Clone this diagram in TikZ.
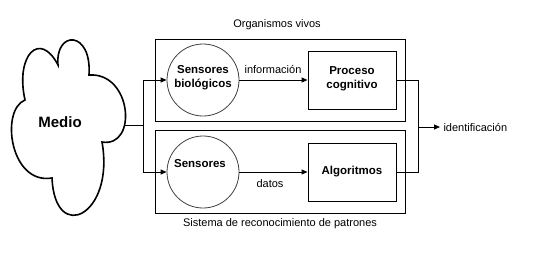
\documentclass[tikz,border=0pt]{standalone}
\usepackage{fontspec}
\setmainfont{Liberation Sans}
\usetikzlibrary{arrows.meta}
\begin{document}
\begin{tikzpicture}[x=1pt,y=-1pt,
  lbl/.style={font=\fontsize{11}{13}\selectfont},
  blbl/.style={font=\fontsize{11.5}{14}\selectfont\bfseries, align=center},
  frame/.style={draw, line width=1pt},
  sensor/.style={draw=black!75, line width=0.8pt, circle, minimum size=72pt, inner sep=0pt},
  proc/.style={draw, line width=1pt, minimum width=88pt, minimum height=58pt, inner sep=0pt},
  conn/.style={line width=1pt},
  arr/.style={line width=1pt, -{Triangle[length=6pt,width=5pt]}}]
\useasboundingbox (0,0) rectangle (536,258);
% outer frames
\draw[frame] (155,39) rectangle (405,121);
\draw[frame] (155,130) rectangle (405,213);
\node[lbl] (tOrg) at (277,25) {Organismos vivos};
\node[lbl] (tSis) at (280,224) {Sistema de reconocimiento de patrones};
% cloud
\draw[line width=1.6pt] (25,100) .. controls (15,55) and (40,30) .. (58,65)
  .. controls (55,30) and (92,30) .. (89,75)
  .. controls (132,72) and (138,148) .. (102,142)
  .. controls (115,215) and (55,245) .. (52,178)
  .. controls (10,185) and (0,110) .. cycle;
\node[font=\fontsize{15}{18}\selectfont\bfseries] (medio) at (60,122) {Medio};
\coordinate (cloudR) at (123.5,125);
\coordinate (split) at (143,125);
% sensors
\node[sensor] (s1) at (203,80) {};
\node[blbl] (s1t) at (203,78) {Sensores\\biológicos};
\node[sensor] (s2) at (203,172) {};
\node[blbl] (s2t) at (200,164) {Sensores};
% processes
\node[proc] (p1) at (352,80) {};
\node[blbl] (p1t) at (352,79) {Proceso\\cognitivo};
\node[proc] (p2) at (352,172) {};
\node[blbl] (p2t) at (352,172) {Algoritmos};
% connectors left
\draw[conn] (cloudR) -- (split);
\draw[arr] (split) |- (s1.west);
\draw[arr] (split) |- (s2.west);
% middle arrows
\draw[arr] (s1.east) -- (p1.west);
\node[lbl] (tinfo) at (273,69) {información};
\draw[arr] (s2.east) -- (p2.west);
\node[lbl] (tdatos) at (270,184) {datos};
% output
\coordinate (join) at (418,127);
\draw[conn] (p1.east) -| (join);
\draw[conn] (p2.east) -| (join);
\node[lbl, anchor=west] (tid) at (440,127) {identificación};
\draw[arr] (join) -- (tid.west);
\end{tikzpicture}
\end{document}
